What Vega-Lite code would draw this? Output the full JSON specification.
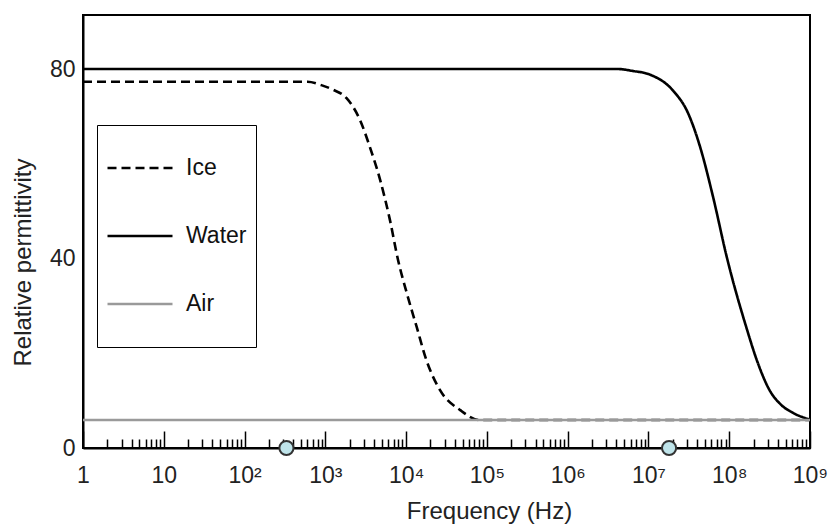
{
  "$schema": "https://vega.github.io/schema/vega-lite/v6.json",
  "autosize": {"type": "none"},
  "width": 727,
  "height": 433,
  "padding": {"left": 83, "top": 15, "right": 25, "bottom": 82},
  "background": "white",
  "config": {
    "font": "Liberation Sans",
    "view": {"stroke": "black", "strokeWidth": 2},
    "axis": {"labelFont": "Liberation Sans", "titleFont": "Liberation Sans", "labelColor": "#222", "titleColor": "#222", "titleFontWeight": "normal", "grid": false}
  },
  "datasets": {
    "curves": [
      {"freq": 1, "eps": 80, "material": "Water"},
      {"freq": 4170000, "eps": 80, "material": "Water"},
      {"freq": 6310000, "eps": 79.6, "material": "Water"},
      {"freq": 10500000, "eps": 78.8, "material": "Water"},
      {"freq": 20000000, "eps": 75.5, "material": "Water"},
      {"freq": 30900000, "eps": 70.7, "material": "Water"},
      {"freq": 43700000, "eps": 63.5, "material": "Water"},
      {"freq": 63100000, "eps": 53, "material": "Water"},
      {"freq": 93300000, "eps": 40.3, "material": "Water"},
      {"freq": 166000000, "eps": 25, "material": "Water"},
      {"freq": 219000000, "eps": 18.6, "material": "Water"},
      {"freq": 316000000, "eps": 12.2, "material": "Water"},
      {"freq": 447000000, "eps": 9.0, "material": "Water"},
      {"freq": 617000000, "eps": 7.4, "material": "Water"},
      {"freq": 1000000000, "eps": 6, "material": "Water"},
      {"freq": 1, "eps": 77.3, "material": "Ice"},
      {"freq": 600, "eps": 77.3, "material": "Ice"},
      {"freq": 891, "eps": 76.6, "material": "Ice"},
      {"freq": 1259, "eps": 75.6, "material": "Ice"},
      {"freq": 1820, "eps": 73.9, "material": "Ice"},
      {"freq": 2692, "eps": 69.2, "material": "Ice"},
      {"freq": 3548, "eps": 63.6, "material": "Ice"},
      {"freq": 4786, "eps": 56.5, "material": "Ice"},
      {"freq": 6310, "eps": 48.1, "material": "Ice"},
      {"freq": 7943, "eps": 39.7, "material": "Ice"},
      {"freq": 10233, "eps": 32.6, "material": "Ice"},
      {"freq": 13490, "eps": 25.6, "material": "Ice"},
      {"freq": 17783, "eps": 18.6, "material": "Ice"},
      {"freq": 26303, "eps": 12.2, "material": "Ice"},
      {"freq": 46774, "eps": 8.0, "material": "Ice"},
      {"freq": 81283, "eps": 5.9, "material": "Ice"},
      {"freq": 1000000000, "eps": 5.9, "material": "Ice"},
      {"freq": 1, "eps": 5.9, "material": "Air"},
      {"freq": 1000000000, "eps": 5.9, "material": "Air"}
    ],
    "markers": [
      {"freq": 330, "eps": 0},
      {"freq": 18000000, "eps": 0}
    ]
  },
  "layer": [
    {
      "data": {"name": "curves"},
      "mark": {"type": "line", "interpolate": "monotone", "strokeWidth": 2.6},
      "encoding": {
        "x": {
          "field": "freq", "type": "quantitative",
          "scale": {"type": "log", "domain": [1, 1000000000], "nice": false},
          "axis": {
            "title": "Frequency (Hz)", "titleFontSize": 24, "titleX": 406, "titleY": 51, "titleBaseline": "top",
            "values": [1,2,3,4,5,6,7,8,9,10,20,30,40,50,60,70,80,90,100,200,300,400,500,600,700,800,900,1000,2000,3000,4000,5000,6000,7000,8000,9000,10000,20000,30000,40000,50000,60000,70000,80000,90000,100000,200000,300000,400000,500000,600000,700000,800000,900000,1000000,2000000,3000000,4000000,5000000,6000000,7000000,8000000,9000000,10000000,20000000,30000000,40000000,50000000,60000000,70000000,80000000,90000000,100000000,200000000,300000000,400000000,500000000,600000000,700000000,800000000,900000000,1000000000],
            "tickSize": {"condition": {"test": "abs(log(datum.value)/LN10 - round(log(datum.value)/LN10)) < 0.001", "value": -17}, "value": -9},
            "tickColor": "black", "tickWidth": 1.5,
            "domainColor": "black", "domainWidth": 2,
            "labelFontSize": 23, "labelPadding": 33, "labelFlush": false, "labelOverlap": false,
            "labelExpr": "abs(log(datum.value)/LN10 - round(log(datum.value)/LN10)) < 0.001 ? (round(log(datum.value)/LN10) < 2 ? format(datum.value, 'd') : '10' + ['','','²','³','⁴','⁵','⁶','⁷','⁸','⁹'][round(log(datum.value)/LN10)]) : ''"
          }
        },
        "y": {
          "field": "eps", "type": "quantitative",
          "scale": {"domain": [0, 91.4], "nice": false, "zero": false},
          "axis": {
            "title": "Relative permittivity", "titleFontSize": 24, "titlePadding": 14, "titleY": 247,
            "values": [0, 40, 80], "ticks": false, "domainColor": "black", "domainWidth": 2,
            "labelFontSize": 23, "labelPadding": 8
          }
        },
        "color": {
          "field": "material", "type": "nominal",
          "scale": {"domain": ["Ice", "Water", "Air"], "range": ["black", "black", "#9a9a9a"]},
          "legend": {
            "title": " ", "titleOrient": "bottom", "titleFontSize": 14, "titlePadding": 8,
            "orient": "none", "legendX": 14, "legendY": 110,
            "strokeColor": "black", "fillColor": "white", "padding": 9,
            "symbolType": "stroke", "symbolSize": 4225, "symbolStrokeWidth": 2.6,
            "labelFontSize": 23, "labelFont": "Liberation Sans", "labelColor": "#111", "labelOffset": 12,
            "rowPadding": 22
          }
        },
        "strokeDash": {
          "field": "material", "type": "nominal",
          "scale": {"domain": ["Ice", "Water", "Air"], "range": [[9, 5], [1, 0], [1, 0]]},
          "legend": {
            "title": " ", "titleOrient": "bottom", "titleFontSize": 14, "titlePadding": 8,
            "orient": "none", "legendX": 14, "legendY": 110,
            "strokeColor": "black", "fillColor": "white", "padding": 9,
            "symbolType": "stroke", "symbolSize": 4225, "symbolStrokeWidth": 2.6,
            "labelFontSize": 23, "labelFont": "Liberation Sans", "labelColor": "#111", "labelOffset": 12,
            "rowPadding": 22
          }
        },
        "order": {"field": "freq", "type": "quantitative"}
      }
    },
    {
      "data": {"name": "markers"},
      "mark": {"type": "point", "filled": true, "size": 200, "fill": "#bfe4ea", "stroke": "#333", "strokeWidth": 2, "opacity": 1},
      "encoding": {
        "x": {"field": "freq", "type": "quantitative"},
        "y": {"field": "eps", "type": "quantitative"}
      }
    }
  ]
}
